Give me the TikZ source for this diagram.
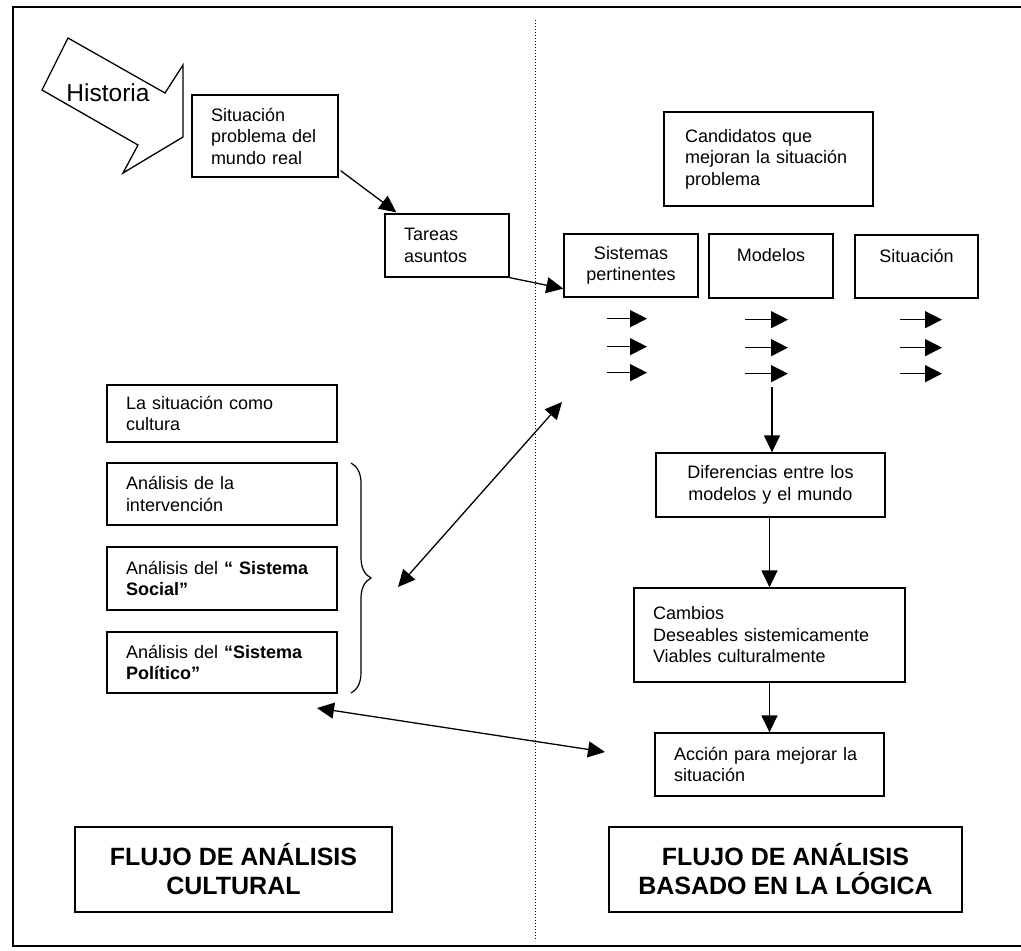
\documentclass[tikz,border=0pt]{standalone}
\usepackage{fontspec}
\setmainfont{Liberation Sans}
\usetikzlibrary{arrows.meta,calc,decorations.pathreplacing}
\begin{document}
\begin{tikzpicture}[x=1pt,y=-1pt,
  txt/.style={font=\fontsize{18}{21.5}\selectfont},
  box/.style={txt, draw, line width=1.3pt, align=left, inner ysep=0pt, inner xsep=19pt},
  cbox/.style={txt, draw, line width=1.3pt, align=center, inner ysep=0pt, inner xsep=6pt},
  title/.style={draw, line width=1.3pt, align=center, inner sep=0pt,
    font=\fontsize{25}{29}\selectfont\bfseries},
  head/.tip={Triangle[length=17pt,width=16pt,fill=black]},
  arr/.style={-{head}, line width=1.3pt},
  darr/.style={{head}-{head}, line width=1.3pt},
  small/.style={-{Triangle[length=17pt,width=17pt,fill=black]}, line width=1.3pt}]
\useasboundingbox (0,0) rectangle (1021,951);

% frame (open on the right) and separator between the two flows
\draw[line width=1.2pt] (1021,7) -- (13,7) -- (13,946) -- (1021,946);
\draw[dotted, line width=1pt] (535,20) -- (535,940);

% "Historia" block arrow
\draw[line width=1.3pt, line join=miter]
  (42,90) -- (68,38) -- (165,93) -- (183,65) -- (183,137) -- (123,173) -- (138,145) -- cycle;
\node[font=\fontsize{24.5}{28}\selectfont] (hist) at (108,93) {Historia};

% cultural flow
\node[box, text width=108pt, minimum height=82pt] (sit) at (265,136)
  {Situación\\problema del\\mundo real};
\node[box, text width=86pt, minimum height=63pt] (tar) at (447,245.5)
  {Tareas\\asuntos};
\node[box, text width=192pt, minimum height=57pt] (cul) at (222,413.5)
  {La situación como\\cultura};
\node[box, text width=192pt, minimum height=62pt] (int) at (222,494)
  {Análisis de la\\intervención};
\node[box, text width=192pt, minimum height=63pt] (soc) at (222,578.5)
  {Análisis del \textbf{“ Sistema\\Social”}};
\node[box, text width=192pt, minimum height=61pt] (pol) at (222,662.5)
  {Análisis del \textbf{“Sistema\\Político”}};
\draw[decorate, decoration={brace, amplitude=20pt}, line width=1.2pt]
  (351,463) -- (351,693);

% logic-based flow
\node[box, text width=167pt, inner xsep=21pt, minimum height=94pt] (cand) at (768.5,159)
  {Candidatos que\\mejoran la situación\\problema};
\node[cbox, text width=122pt, minimum height=63pt] (sis) at (631,265.5)
  {Sistemas\\pertinentes};
\node[cbox, text width=112pt, minimum height=64pt] (mod) at (771,266)
  {Modelos\\\mbox{}};
\node[cbox, text width=111pt, minimum height=63pt] (sitr) at (916.5,266.5)
  {Situación\\\mbox{}};
\node[cbox, text width=200pt, inner xsep=14.5pt, minimum height=64pt] (dif) at (770.5,485)
  {Diferencias entre los\\modelos y el mundo};
\node[box, text width=233pt, minimum height=94pt] (cam) at (769.5,635)
  {Cambios\\Deseables sistemicamente\\Viables culturalmente};
\node[box, text width=191pt, minimum height=63pt] (acc) at (769.5,764.5)
  {Acción para mejorar la\\situación};

% flow titles
\node[title, minimum width=317pt, minimum height=85pt] (tl) at (233.5,869.5)
  {FLUJO DE ANÁLISIS\\CULTURAL};
\node[title, minimum width=353pt, minimum height=85pt] (tr) at (785.5,869.5)
  {FLUJO DE ANÁLISIS\\BASADO EN LA LÓGICA};

% free ends of the connectors
\coordinate (mdown) at (772,387);
\coordinate (brtip) at (398,587);
\coordinate (sysend) at (562,402);
\coordinate (polend) at (317,708);
\coordinate (accend) at (605,752);

% connectors
\draw[arr] ($(sit.south east)+(2,-7)$) -- ($(tar.north west)+(12,-1)$);
\draw[arr] (tar.south east) -- ($(sis.south west)+(0,-9)$);
\draw[arr] (mdown) -- (mdown |- dif.north);
\draw[arr] (cam.north |- dif.south) -- (cam.north);
\draw[arr] (cam.south) -- (acc.north);
\draw[darr] (brtip) -- (sysend);
\draw[darr] (polend) -- (accend);

% three small arrows under each candidate
\foreach \n/\a/\b in {sis/-24/16, mod/-26/17, sitr/-16.5/25.5}
  \foreach \dy in {21,49,75}
    \draw[small] ($(\n.south)+(\a,\dy)$) -- ($(\n.south)+(\b,\dy)$);
\end{tikzpicture}
\end{document}
